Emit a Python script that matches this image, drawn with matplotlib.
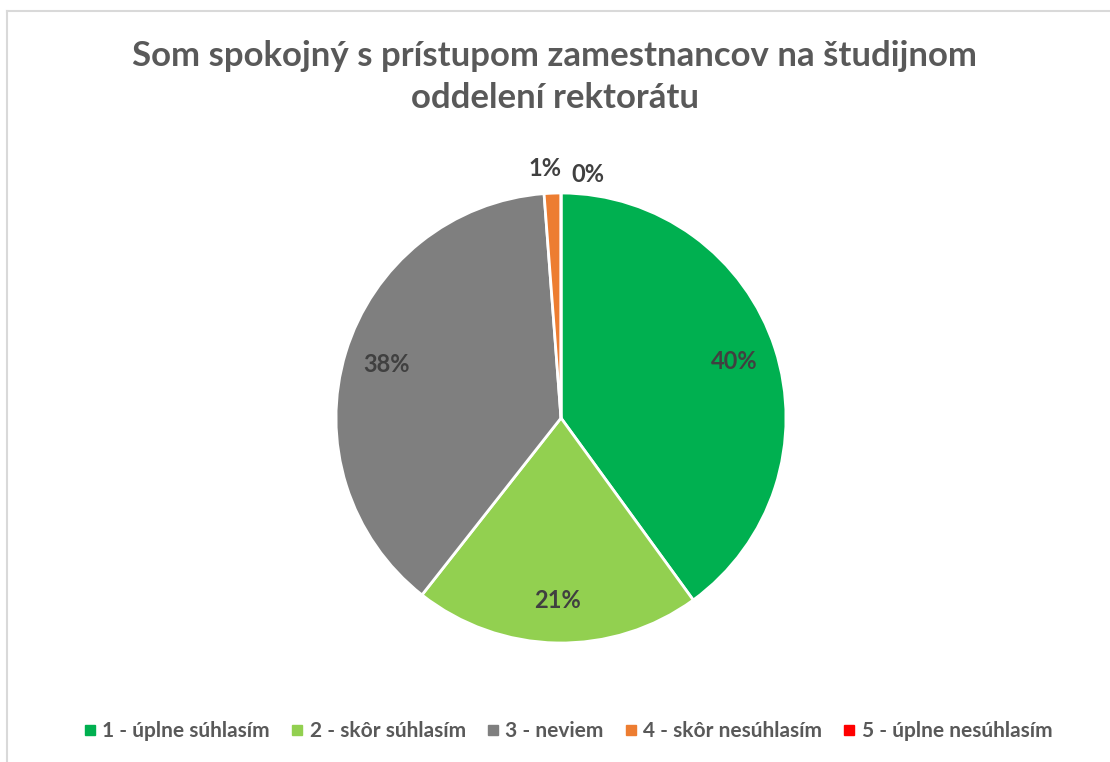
import numpy as np
import matplotlib.pyplot as plt
from matplotlib.lines import Line2D

plt.rcParams['font.family'] = ['Lato', 'DejaVu Sans']

title = "Som spokojný s prístupom zamestnancov na študijnom\noddelení rektorátu"
labels = ["1 - úplne súhlasím", "2 - skôr súhlasím", "3 - neviem",
          "4 - skôr nesúhlasím", "5 - úplne nesúhlasím"]
shares = [40.0, 20.6, 38.2, 1.2, 0.0]
colors = ["#00B050", "#92D050", "#7F7F7F", "#ED7D31", "#FF0000"]

W, H = 1110, 762
fig = plt.figure(figsize=(W / 100, H / 100), dpi=100)

# chart frame (light grey border on left/top)
fig.add_artist(Line2D([7 / W, 7 / W], [0, 1 - 10.5 / H], color="#D9D9D9", lw=1.5))
fig.add_artist(Line2D([7 / W, 1], [1 - 10.5 / H, 1 - 10.5 / H], color="#D9D9D9", lw=1.5))

cx, cy, r = 561, 418, 225
ax = fig.add_axes([(cx - r) / W, 1 - (cy + r) / H, 2 * r / W, 2 * r / H])
wedges, texts, autotexts = ax.pie(
    shares, colors=colors, startangle=90, counterclock=False,
    autopct=lambda p: f"{p:.0f}%", pctdistance=0.81,
    wedgeprops=dict(edgecolor="white", linewidth=2),
    textprops=dict(fontsize=17, fontweight="bold", color="#404040"))
ax.set_xlim(-1, 1)
ax.set_ylim(-1, 1)
ax.set_aspect("equal")
ax.axis("off")

# small slices: labels outside
for i, (w, t) in enumerate(zip(wedges, autotexts)):
    if shares[i] < 5:
        ang = np.deg2rad((w.theta1 + w.theta2) / 2)
        x, y = 1.11 * np.cos(ang), 1.11 * np.sin(ang)
        if i == 4:
            x, y = x + 0.12, y - 0.03
        else:
            x = x - 0.03
        t.set_position((x, y))
        t.set_clip_on(False)

fig.text(0.5, 1 - 77 / H, title, ha="center", va="center", fontsize=25,
         fontweight="bold", color="#595959", linespacing=1.35)

handles = [Line2D([], [], marker="s", linestyle="none", markersize=7,
                  markerfacecolor=c, markeredgecolor=c) for c in colors]
fig.legend(handles, labels, loc="center", bbox_to_anchor=(566 / W, 1 - 731 / H),
           ncol=5, frameon=False, handletextpad=0.1, columnspacing=0.8,
           handlelength=1.0, prop=dict(size=15, weight="bold"),
           labelcolor="#595959")

plt.savefig("out.png", dpi=100)
